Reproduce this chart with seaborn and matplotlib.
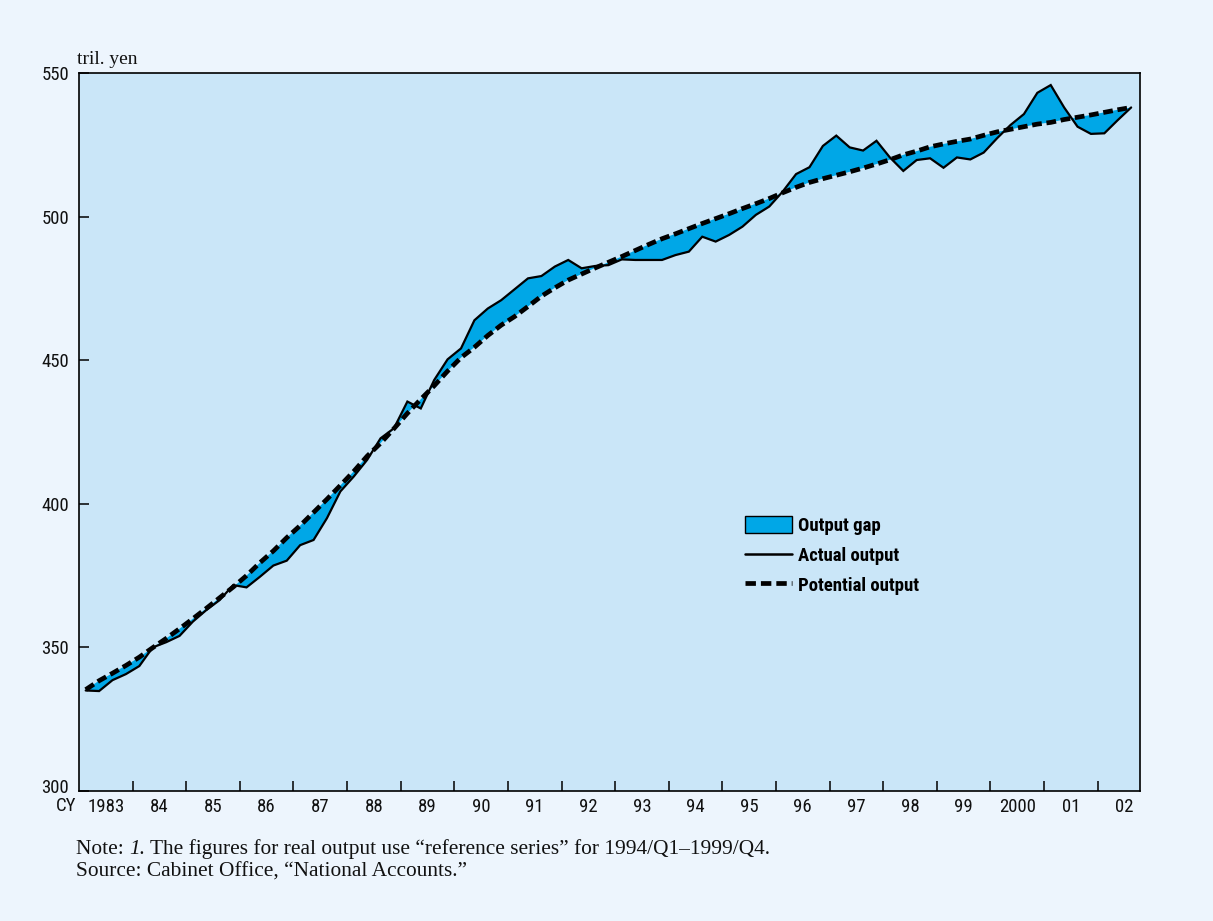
import matplotlib
matplotlib.use("Agg")
import matplotlib.pyplot as plt
import matplotlib.patches as mpatches
import matplotlib.lines as mlines
import matplotlib.transforms as mtransforms
from matplotlib import font_manager
import numpy as np
import pandas as pd
import seaborn as sns

# ---------------- data (quarterly, 1983/Q1 - 2002/Q3), tril. yen ----------------
start_year = 1983
actual_output = [
    335.0, 334.8, 338.6, 340.7,
    343.5, 350.0, 351.8, 354.0,
    359.0, 363.0, 366.5, 371.7,
    370.9, 374.6, 378.5, 380.2,
    385.6, 387.4, 395.0, 404.3,
    409.5, 415.3, 422.8, 426.3,
    435.6, 433.2, 443.1, 450.3,
    454.1, 463.9, 468.0, 470.9,
    474.7, 478.5, 479.3, 482.6,
    484.9, 482.0, 482.8, 483.1,
    485.1, 484.9, 484.9, 484.9,
    486.6, 487.8, 493.0, 491.3,
    493.6, 496.5, 500.6, 503.5,
    508.7, 514.8, 517.2, 524.6,
    528.2, 524.1, 523.0, 526.4,
    520.6, 515.9, 519.7, 520.3,
    517.0, 520.6, 519.9, 522.3,
    527.3, 531.9, 535.7, 543.1,
    545.8, 538.0, 531.3, 528.8,
    529.0, 533.6, 538.0,
]
potential_output = [
    335.3, 338.4, 341.0, 343.7,
    346.6, 349.9, 353.1, 356.5,
    360.0, 363.6, 367.3, 371.0,
    375.0, 379.5, 383.6, 388.2,
    392.4, 397.0, 401.6, 406.4,
    411.3, 416.6, 421.1, 426.2,
    431.5, 436.4, 441.1, 446.2,
    450.9, 454.5, 458.6, 462.2,
    465.2, 468.7, 472.3, 475.2,
    477.9, 480.0, 482.1, 484.1,
    486.1, 488.2, 490.3, 492.3,
    494.0, 495.8, 497.6, 499.3,
    501.0, 502.8, 504.5, 506.3,
    508.3, 510.2, 511.9, 513.2,
    514.4, 515.6, 516.9, 518.3,
    519.8, 521.5, 522.8, 524.3,
    525.3, 526.2, 527.0, 528.3,
    529.5, 530.4, 531.3, 532.2,
    532.8, 533.8, 534.6, 535.4,
    536.3, 537.2, 538.0,
]
year_labels = ["1983", "84", "85", "86", "87", "88", "89", "90", "91", "92",
               "93", "94", "95", "96", "97", "98", "99", "2000", "01", "02"]
y_ticks = [300, 350, 400, 450, 500, 550]

n = len(actual_output)
t = start_year + (np.arange(n) + 0.5) / 4.0
df = pd.DataFrame({"t": t, "actual": actual_output, "potential": potential_output})

# ---------------- style ----------------
sns.set_style("ticks")
FIG_BG = "#EDF5FD"
AX_BG = "#CAE6F8"
GAP = "#00A7E7"
SERIF = ["Liberation Serif", "DejaVu Serif"]

# pick a condensed sans if one exists
names = {f.name for f in font_manager.fontManager.ttflist}
condensed_dejavu = any(f.name == "DejaVu Sans" and "Condensed" in f.fname
                       for f in font_manager.fontManager.ttflist)
if "Liberation Sans Narrow" in names:
    COND = dict(family=["Liberation Sans Narrow", "DejaVu Sans"])
elif "Roboto Condensed" in names:
    COND = dict(family=["Roboto Condensed", "DejaVu Sans"])
elif condensed_dejavu:
    COND = dict(family=["DejaVu Sans"], stretch="condensed")
else:
    COND = dict(family=["Roboto", "DejaVu Sans"])
STRETCH = COND.get("stretch", "normal")

plt.rcParams["font.family"] = ["DejaVu Sans"]
plt.rcParams["lines.scale_dashes"] = False

fig = plt.figure(figsize=(12.13, 9.21), dpi=100, facecolor=FIG_BG)
ax = fig.add_axes([79 / 1213, 130 / 921, 1061 / 1213, 718 / 921])
ax.set_facecolor(AX_BG)

ax.fill_between(df["t"], df["actual"], df["potential"], facecolor=GAP,
                edgecolor="none", linewidth=0, zorder=2)
sns.lineplot(data=df, x="t", y="actual", ax=ax, color="black", linewidth=1.6,
             zorder=4, estimator=None, sort=False)
sns.lineplot(data=df, x="t", y="potential", ax=ax, color="black", linewidth=3.4,
             linestyle=(0, (7.0, 3.4)), zorder=3, estimator=None, sort=False)
for ln in ax.lines:
    ln.set_solid_joinstyle("miter")
    ln.set_dash_capstyle("butt")

ax.set_xlim(start_year, start_year + 19.79)
ax.set_ylim(300, 550)
ax.set_xlabel("")
ax.set_ylabel("")

# ticks
ax.set_yticks(y_ticks)
ax.set_yticklabels([str(v) for v in y_ticks])
ax.set_xticks(np.arange(start_year + 1, start_year + 20))
ax.set_xticklabels([])
ax.set_xticks(start_year + 0.5 + np.arange(len(year_labels)), minor=True)
ax.set_xticklabels(year_labels, minor=True)
ax.tick_params(axis="x", which="major", direction="in", length=7, width=1.1,
               color="black")
ax.tick_params(axis="x", which="minor", length=0, pad=5, labelsize=13.5,
               labelcolor="#111111")
ax.tick_params(axis="y", which="major", direction="in", length=7, width=1.1,
               pad=7, labelsize=13.5, labelcolor="#111111", color="black")
for lab in ax.get_xticklabels(minor=True) + ax.get_yticklabels():
    lab.set_family(COND["family"])
    lab.set_stretch(STRETCH)
# the bottom value label sits a little above the axis line, as in the original
ylabs = ax.get_yticklabels()
ylabs[0].set_transform(ylabs[0].get_transform() +
                       mtransforms.ScaledTranslation(0, 5 / 100, fig.dpi_scale_trans))
for s in ax.spines.values():
    s.set_visible(True)
    s.set_color("black")
    s.set_linewidth(1.2)

# legend
h_gap = mpatches.Patch(facecolor=GAP, edgecolor="black", linewidth=1.0,
                       label="Output gap")
h_act = mlines.Line2D([], [], color="black", linewidth=1.8, label="Actual output")
h_pot = mlines.Line2D([], [], color="black", linewidth=3.4,
                      linestyle=(0, (7.5, 3.6)), dash_capstyle="butt",
                      label="Potential output")
legprop = font_manager.FontProperties(family=COND["family"], weight="bold",
                                      size=13.5, stretch=STRETCH)
leg = ax.legend(handles=[h_gap, h_act, h_pot], loc="upper left",
                bbox_to_anchor=((745 - 79) / 1061, (791 - 516) / 718),
                frameon=False, borderpad=0, borderaxespad=0,
                handlelength=2.5, handleheight=1.05, handletextpad=0.35,
                labelspacing=0.58, prop=legprop)
for txt in leg.get_texts():
    txt.set_color("black")

# texts
fig.text(66 / 1213, 1 - 806 / 921, "CY", ha="center", va="center",
         fontsize=13.5, color="#111111", family=COND["family"], stretch=STRETCH)
fig.text(77 / 1213, 1 - 59 / 921, "tril. yen", ha="left", va="center",
         fontsize=14, color="#111111", family=SERIF)

renderer = fig.canvas.get_renderer()
y_note = 1 - 849 / 921
parts = [("Note: ", "normal"), ("1.", "italic"),
         (" The figures for real output use \u201creference series\u201d for 1994/Q1\u20131999/Q4.",
          "normal")]
x_cur = 76 / 1213
for txt, style in parts:
    tobj = fig.text(x_cur, y_note, txt, ha="left", va="center", fontsize=15.4,
                    style=style, color="#111111", family=SERIF)
    bb = tobj.get_window_extent(renderer=renderer)
    x_cur = bb.x1 / fig.bbox.width
fig.text(76 / 1213, 1 - 872 / 921,
         "Source: Cabinet Office, \u201cNational Accounts.\u201d",
         ha="left", va="center", fontsize=15.4, color="#111111", family=SERIF)

fig.savefig("out.png", dpi=100, facecolor=FIG_BG)
